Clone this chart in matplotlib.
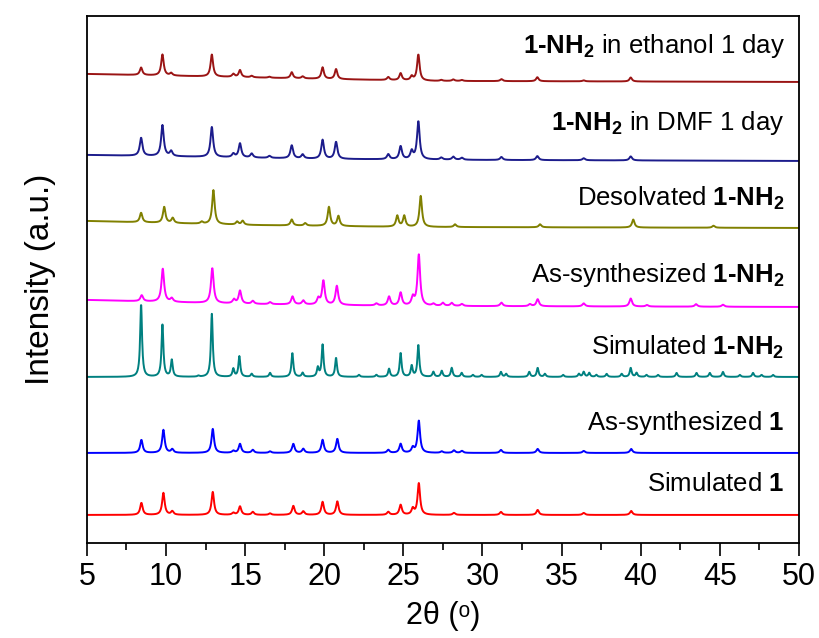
import numpy as np
import matplotlib

matplotlib.use("Agg")
import matplotlib.pyplot as plt

plt.rcParams["font.family"] = ["Liberation Sans", "DejaVu Sans"]
plt.rcParams["mathtext.fontset"] = "custom"
plt.rcParams["mathtext.rm"] = "Liberation Sans:bold"
plt.rcParams["mathtext.bf"] = "Liberation Sans:bold"
plt.rcParams["mathtext.it"] = "Liberation Sans:italic"

# 2-theta grid of the patterns
TWO_THETA = np.arange(5.0, 50.001, 0.02)

# ---- Simulated 1 ----
SIM1_POS = [8.45, 9.84, 10.40, 12.96, 14.26, 14.68, 15.49, 16.58, 18.05, 18.68,
            19.90, 20.83, 24.05, 24.83, 25.60, 25.98, 28.20, 31.17, 33.49, 36.40, 39.40]
SIM1_HT = [12, 22, 3.5, 23, 2, 8.5, 3, 1.5, 9, 3.5,
           13, 13.5, 3, 10, 6, 31.5, 2, 3, 5, 2, 4]
SIM1_BASE_X = [5, 50]
SIM1_BASE_Y = [28, 28]

# ---- As-synthesized 1 ----
AS1_POS = [8.45, 9.84, 10.40, 12.96, 14.26, 14.68, 15.49, 16.58, 18.05, 18.68,
           19.90, 20.83, 24.05, 24.83, 25.60, 25.98, 27.43, 28.20, 28.70, 31.17,
           33.49, 36.40, 39.40]
AS1_HT = [13, 23, 3.5, 24, 2, 9, 3, 1.5, 9, 4,
          13, 14, 3, 9, 5, 32, 1.5, 2.5, 2, 3,
          4, 2, 4]
AS1_BASE_X = [5, 50]
AS1_BASE_Y = [90, 90]

# ---- Simulated 1-NH2 ----
SIMN_POS = [8.43, 9.78, 10.37, 12.05, 12.90, 14.26, 14.64, 15.42, 16.58, 17.99,
            18.64, 19.60, 19.90, 20.75, 22.20, 23.30, 24.10, 24.83, 25.53, 25.95,
            26.90, 27.43, 28.06, 28.69, 29.40, 29.95, 31.17, 31.50, 32.96, 33.49,
            33.95, 35.10, 36.10, 36.40, 36.75, 37.20, 37.85, 38.80, 39.37, 39.74,
            40.37, 41.10, 42.27, 43.53, 44.37, 45.20, 46.27, 47.10, 47.64, 48.37]
SIMN_HT = [73, 52, 17, 1, 63, 8, 20.5, 3, 4, 24,
           4, 9, 32, 19, 2, 2, 8, 24, 11, 32,
           5, 6, 9, 4, 2, 2, 5, 3, 5, 9,
           3, 2, 3, 5, 4, 2, 3, 3, 9, 4,
           2, 2, 4, 4, 4, 5, 2, 4, 2, 2]
SIMN_BASE_X = [5, 50]
SIMN_BASE_Y = [166, 166]

# ---- As-synthesized 1-NH2 ----
ASN_POS = [8.47, 9.80, 10.37, 12.93, 14.30, 14.68, 15.49, 16.58, 18.00, 18.68,
           19.63, 19.95, 20.80, 23.30, 24.10, 24.83, 25.60, 25.98, 26.90, 27.50,
           28.06, 28.70, 31.20, 33.00, 33.49, 36.40, 39.37, 40.40, 43.50, 45.20]
ASN_HT = [6, 33, 3.5, 35, 4, 13, 3, 2, 8, 4,
          6, 24, 19, 2, 9, 13, 8, 51, 2, 3,
          3, 2, 3.5, 2, 7, 3, 8, 1.5, 2.5, 2]
ASN_BASE_X = [5, 15, 25, 50]
ASN_BASE_Y = [243, 239, 237, 236]

# ---- Desolvated 1-NH2 ----
DES_POS = [8.43, 9.89, 10.43, 12.26, 13.00, 14.50, 14.85, 17.95, 18.80, 20.30,
           20.90, 24.62, 25.06, 26.10, 28.27, 33.64, 39.53, 44.60]
DES_HT = [9.5, 16, 5, 2, 34, 3, 4, 6, 2.5, 19,
          10, 11, 11, 31, 2.7, 3, 8, 2]
DES_BASE_X = [5, 15, 25, 50]
DES_BASE_Y = [322, 318, 316, 315]

# ---- 1-NH2 in DMF 1 day ----
DMF_POS = [8.43, 9.78, 10.33, 12.90, 14.26, 14.68, 15.42, 16.54, 17.95, 18.64,
           19.90, 20.75, 24.05, 24.83, 25.53, 25.95, 27.40, 28.16, 28.70, 31.20,
           33.47, 36.40, 39.37]
DMF_HT = [18, 31, 5, 30, 3.5, 14, 4, 2, 13, 4,
          19, 17, 5, 13, 8, 38, 2, 3, 2, 3,
          4, 2, 4]
DMF_BASE_X = [5, 20, 30, 50]
DMF_BASE_Y = [388, 384, 383, 382]

# ---- 1-NH2 in ethanol 1 day ----
ETH_POS = [8.43, 9.78, 10.33, 12.90, 14.26, 14.68, 15.42, 16.54, 17.95, 18.64,
           19.90, 20.75, 24.05, 24.83, 25.53, 25.95, 27.40, 28.16, 28.70, 31.20,
           33.47, 36.40, 39.37]
ETH_HT = [7.5, 21, 2.5, 22, 3, 7, 1.5, 1, 6, 2,
          11.5, 10, 3, 7, 4, 26, 1, 1.5, 1, 2,
          4, 1, 4]
ETH_BASE_X = [5, 20, 27, 50]
ETH_BASE_Y = [469, 464, 462, 461]

# bold compound name, hyphen kept as a text hyphen (rm is bold here)
BOLD_NH2 = "$\\mathbf{1}\\text{-}\\mathbf{NH}_{\\mathbf{2}}$"
LABELS = [
    "Simulated $\\mathbf{1}$",
    "As-synthesized $\\mathbf{1}$",
    "Simulated " + BOLD_NH2,
    "As-synthesized " + BOLD_NH2,
    "Desolvated " + BOLD_NH2,
    BOLD_NH2 + " in DMF 1 day",
    BOLD_NH2 + " in ethanol 1 day",
]
LABEL_Y = [52, 113, 188, 261, 337, 413, 490]
COLORS = ["#ff0000", "#0000ff", "#008080", "#ff00ff", "#808000", "#1c1c8c", "#9a1414"]
WIDTHS = [0.19, 0.19, 0.14, 0.2, 0.19, 0.2, 0.19]

TRACES = [
    (SIM1_POS, SIM1_HT, SIM1_BASE_X, SIM1_BASE_Y),
    (AS1_POS, AS1_HT, AS1_BASE_X, AS1_BASE_Y),
    (SIMN_POS, SIMN_HT, SIMN_BASE_X, SIMN_BASE_Y),
    (ASN_POS, ASN_HT, ASN_BASE_X, ASN_BASE_Y),
    (DES_POS, DES_HT, DES_BASE_X, DES_BASE_Y),
    (DMF_POS, DMF_HT, DMF_BASE_X, DMF_BASE_Y),
    (ETH_POS, ETH_HT, ETH_BASE_X, ETH_BASE_Y),
]


def pattern(x, positions, heights, fwhm, base_x, base_y):
    # sum of Lorentzian reflections on a background
    y = np.interp(x, base_x, base_y)
    g = fwhm / 2.0
    for p, h in zip(positions, heights):
        y = y + h * g ** 2 / ((x - p) ** 2 + g ** 2)
    return y


fig = plt.figure(figsize=(8.19, 6.38), dpi=100)
ax = fig.add_axes([0.106, 0.149, 0.8695, 0.826])

for (pos, ht, bx, by), color, w, label, ly in zip(TRACES, COLORS, WIDTHS, LABELS, LABEL_Y):
    ax.plot(TWO_THETA, pattern(TWO_THETA, pos, ht, w, bx, by), color=color, lw=1.4)
    ax.text(49.1, ly, label, ha="right", va="baseline", fontsize=18.5)

ax.set_xlim(5, 50)
ax.set_ylim(0, 527)
ax.set_yticks([])
ax.set_xticks(np.arange(5, 51, 5))
ax.set_xticks(np.arange(7.5, 50, 5), minor=True)
ax.tick_params(axis="x", which="major", direction="out", length=9, width=1.2,
               labelsize=22, pad=5)
ax.tick_params(axis="x", which="minor", direction="out", length=5, width=1.2)
for spine in ax.spines.values():
    spine.set_linewidth(1.3)

ax.set_xlabel("2\u03b8 (\u1d52)", fontsize=22, labelpad=6)
ax.set_ylabel("Intensity (a.u.)", fontsize=24, labelpad=22)

fig.savefig("out.png", dpi=100)
